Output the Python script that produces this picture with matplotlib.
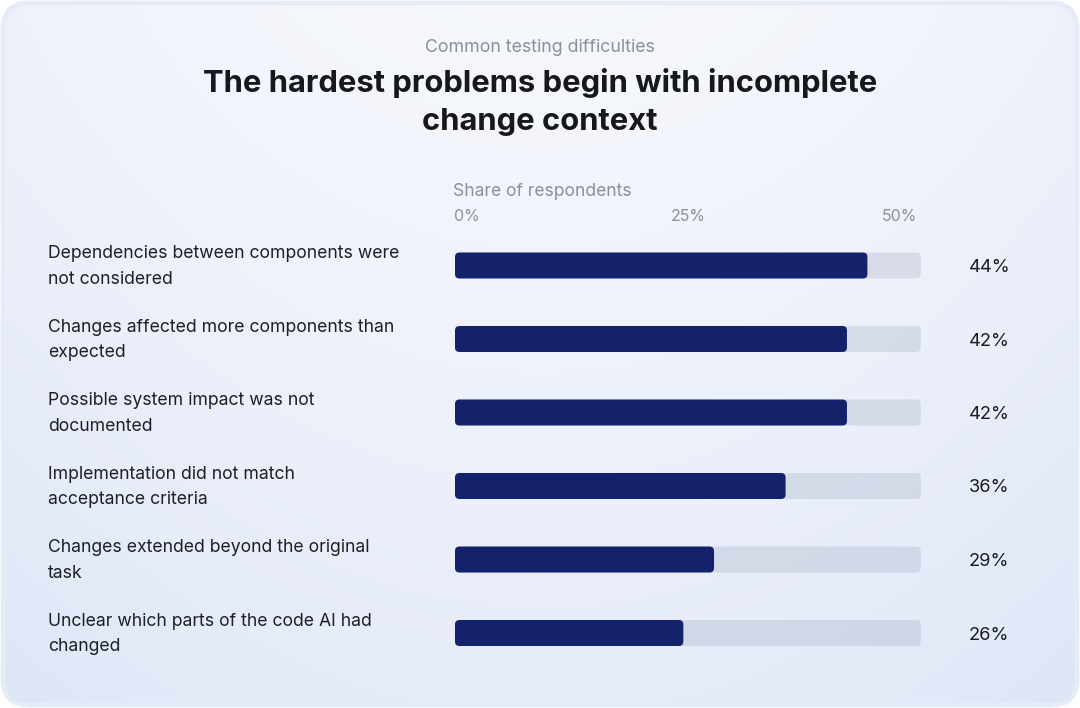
import numpy as np
import matplotlib
matplotlib.use("Agg")
import matplotlib.pyplot as plt
from matplotlib.patches import FancyBboxPatch

categories = [
    "Dependencies between components were\nnot considered",
    "Changes affected more components than\nexpected",
    "Possible system impact was not\ndocumented",
    "Implementation did not match\nacceptance criteria",
    "Changes extended beyond the original\ntask",
    "Unclear which parts of the code AI had\nchanged",
]
values = [44, 42, 42, 36, 29, 26]
tick_labels = ["0%", "25%", "50%"]
subtitle = "Common testing difficulties"
title = "The hardest problems begin with incomplete\nchange context"
axis_title = "Share of respondents"

W, H = 1080, 708
DPI = 100
FONT = ["Inter", "DejaVu Sans"]

fig = plt.figure(figsize=(W / DPI, H / DPI), dpi=DPI)
fig.patch.set_facecolor("white")

def fx(x):
    return x / W

def fy(y):
    return 1 - y / H

# background card with gradient
bg = fig.add_axes([0, 0, 1, 1])
bg.set_xlim(0, W)
bg.set_ylim(H, 0)
bg.axis("off")
yy, xx = np.mgrid[0:H, 0:W]
dx = (xx - W / 2) / (W / 2)
dy = yy / H
t = np.clip(0.55 * dy ** 1.3 + 0.3 * np.abs(dx) ** 2 + 0.08 * dy, 0, 1)
top = np.array([0.962, 0.970, 0.988])
bot = np.array([0.862, 0.895, 0.965])
img = top[None, None, :] * (1 - t[..., None]) + bot[None, None, :] * t[..., None]
im = bg.imshow(img, extent=(0, W, H, 0), zorder=1)
card = FancyBboxPatch((3, 3), W - 6, H - 6, boxstyle="round,pad=0,rounding_size=26",
                      facecolor="none", edgecolor="#e6ebf8", linewidth=3.5, zorder=2)
bg.add_patch(card)
im.set_clip_path(card)

# texts
fig.text(fx(540), fy(47), subtitle, ha="center", va="center", fontsize=12.8,
         color="#8b9099", family=FONT)
fig.text(fx(540), fy(102), title, ha="center", va="center", fontsize=22.3,
         fontweight="bold", color="#16181d", family=FONT, linespacing=1.45)
fig.text(fx(453), fy(191.5), axis_title, ha="left", va="center", fontsize=12.6,
         color="#8b9099", family=FONT)

# bar axes
row_h = 73.5
first_center = 265.5
n = len(values)
ax_top = first_center - row_h / 2
ax_h = row_h * n
x_left_px, x_right_px = 455, 920.7
px_per_unit = 10.225
zero_px = 417.5
ax = fig.add_axes([fx(x_left_px), fy(ax_top + ax_h), (x_right_px - x_left_px) / W, ax_h / H])
ax.set_xlim((x_left_px - zero_px) / px_per_unit, (x_right_px - zero_px) / px_per_unit)
ax.set_ylim(n - 0.5, -0.5)
ax.axis("off")
x0, x1 = ax.get_xlim()
bar_h = 26 / row_h
aspect = (1 / row_h) / (1 / px_per_unit)
r = 4.5 / px_per_unit
for i, v in enumerate(values):
    ax.add_patch(FancyBboxPatch((x0, i - bar_h / 2), x1 - x0, bar_h,
                                boxstyle=f"round,pad=0,rounding_size={r}",
                                mutation_aspect=aspect, facecolor="#3b4a6e", alpha=0.12,
                                edgecolor="none", clip_on=False))
    ax.add_patch(FancyBboxPatch((x0, i - bar_h / 2), v - x0, bar_h,
                                boxstyle=f"round,pad=0,rounding_size={r}",
                                mutation_aspect=aspect, facecolor="#13226a",
                                edgecolor="none", clip_on=False))
    ax.text(x1 + 48 / px_per_unit, i + 2 / row_h, f"{v}%", ha="left", va="center",
            fontsize=13.2, color="#1a1c22", family=FONT)
    fig.text(fx(48), fy(first_center + row_h * i + 1), categories[i], ha="left",
             va="center", fontsize=12.7, color="#1d2026", family=FONT, linespacing=1.62)

# ticks
tick_y = fy(216.5)
fig.text(fx(454), tick_y, tick_labels[0], ha="left", va="center", fontsize=11.4,
         color="#8b9099", family=FONT)
fig.text(fx(688), tick_y, tick_labels[1], ha="center", va="center", fontsize=11.4,
         color="#8b9099", family=FONT)
fig.text(fx(917), tick_y, tick_labels[2], ha="right", va="center", fontsize=11.4,
         color="#8b9099", family=FONT)

fig.savefig("out.png", dpi=DPI, facecolor="white")
